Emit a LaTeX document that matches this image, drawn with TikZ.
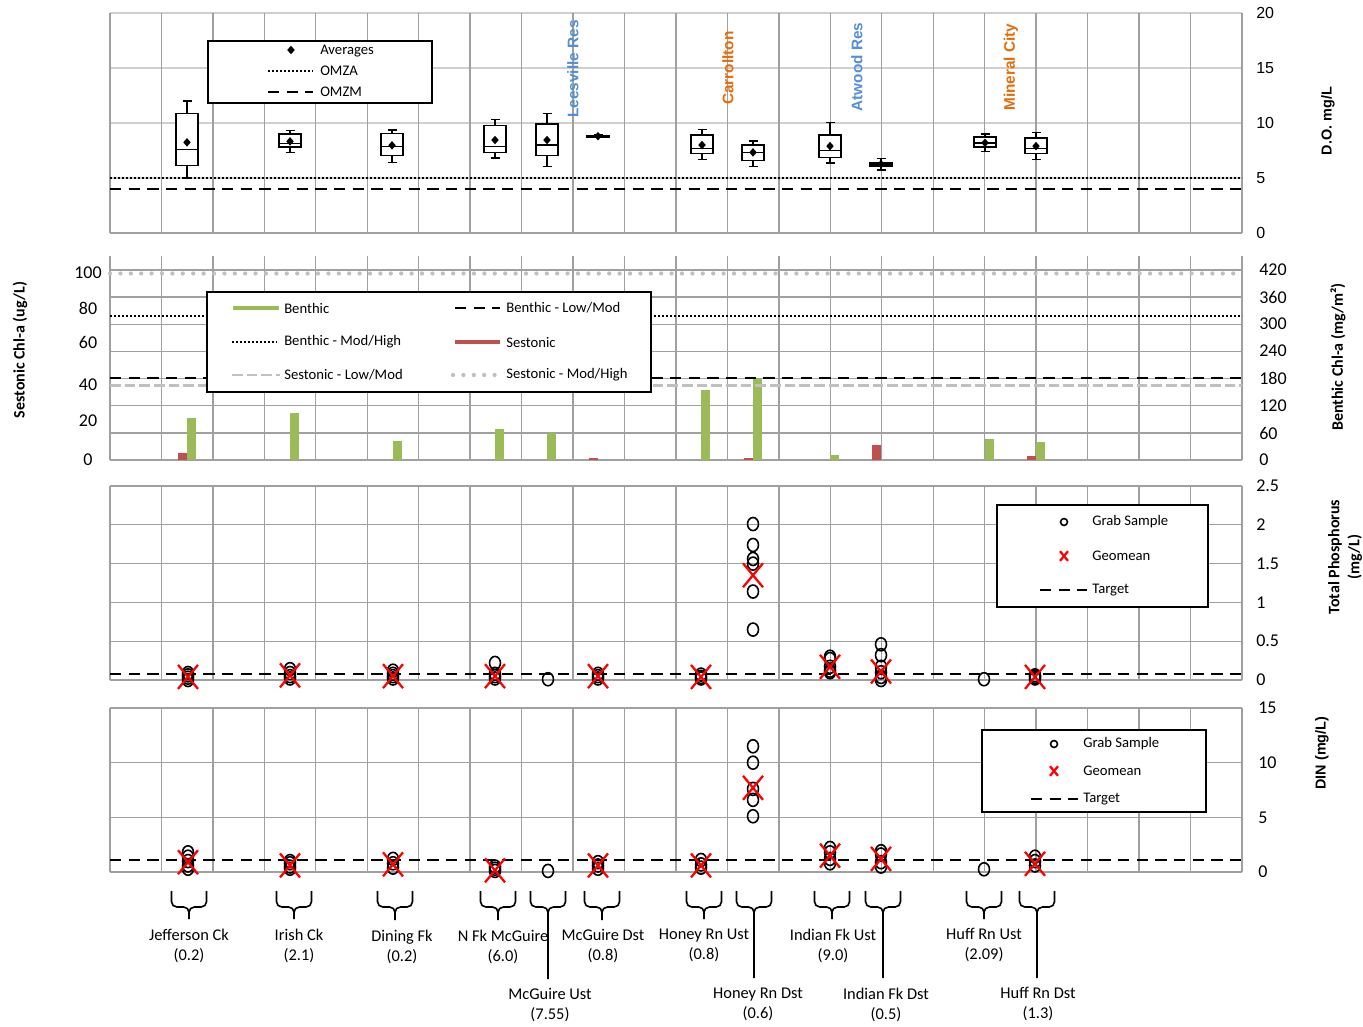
\documentclass[tikz,border=0pt]{standalone}
\usepackage{fontspec}
\setmainfont{Carlito}
\newfontfamily\arialfont{Liberation Sans}
\usetikzlibrary{calc}
\definecolor{gridgray}{HTML}{A0A0A0}
\definecolor{faintgray}{HTML}{CFCFCF}
\definecolor{refgray}{HTML}{C0C0C0}
\definecolor{benthic}{HTML}{9BBB59}
\definecolor{sestonic}{HTML}{C0504D}
\definecolor{resblue}{HTML}{558ED5}
\definecolor{townorange}{HTML}{E46C0A}
\newcommand*{\plotl }{110}
\newcommand*{\plotr }{1242}
\newcommand*{\colw  }{51.45}
\newcommand*{\hbw   }{11}
\newcommand*{\hcw   }{4.5}
\newcommand*{\tickfont }{\fontsize{13.5}{16}\selectfont}
\newcommand*{\legfont  }{\fontsize{11}{13}\selectfont}
\newcommand*{\sitefont }{\fontsize{12.3}{15}\selectfont}
\newcommand*{\titlefont}{\bfseries\fontsize{12}{15}\selectfont}
\newcommand*{\arialtitle}{\arialfont\bfseries\fontsize{10.8}{13}\selectfont}
\newcommand*{\townfont }{\arialfont\bfseries\fontsize{11.5}{13}\selectfont}
\tikzset{
    gridline/.style = {draw=gridgray, line width=1pt},
    faintline/.style= {draw=faintgray, line width=1pt},
    boxline/.style  = {line width=1.1pt},
    fineDots/.style = {line width=1.5pt, dash pattern=on 1.4pt off 1.6pt},
    blackDash/.style= {line width=2.2pt, dash pattern=on 8.5pt off 5.5pt},
    seslm/.style    = {draw=refgray, line width=2.2pt, dash pattern=on 8pt off 3pt},
    sesmh/.style    = {draw=refgray, line width=3.2pt, line cap=round, dash pattern=on 0pt off 7.8pt},
    legbox/.style   = {draw, fill=white, line width=1.2pt},
    legtext/.style  = {anchor=west, inner sep=0pt, font=\legfont},
    tick/.style     = {anchor=west, inner sep=0pt, font=\tickfont},
    town/.style     = {rotate=90, font=\townfont},
    axtitle/.style  = {rotate=90, font=\titlefont, align=center},
    site/.style     = {anchor=north, align=center, inner xsep=1pt, inner ysep=7pt, font=\sitefont},
    brace/.style    = {line width=1.2pt, rounded corners=4pt},
    geo/.pic        = {\draw[red, line width=1.7pt] (-7.5pt,-9pt) -- (7.5pt,9pt) (-7.5pt,9pt) -- (7.5pt,-9pt);},
    geosmall/.pic   = {\draw[red, line width=1.7pt] (-3pt,-3.6pt) -- (3pt,3.6pt) (-3pt,3.6pt) -- (3pt,-3.6pt);},
    grab/.pic       = {\draw[line width=1.2pt] (0pt,0pt) circle[x radius=4.1pt, y radius=4.9pt];},
    grabsmall/.pic  = {\draw[line width=1.2pt] (0pt,0pt) circle[radius=2.6pt];},
    avg/.pic        = {\fill (0pt,3.2pt) -- (2.8pt,0pt) -- (0pt,-3.2pt) -- (-2.8pt,0pt) -- cycle;}
}

\begin{document}
\begin{tikzpicture}[x=0.75pt, y=-0.75pt]
    \fill[white] (0,0) rectangle (1363,1026);
    \useasboundingbox (0,0) rectangle (1363,1026);

    % ---- dissolved oxygen
    \foreach \p in {13,68,123,178} \draw[faintline] (\plotl,\p) -- (\plotr,\p);
    \foreach \i in {0,...,22} \draw[gridline] ({\plotl+\i*\colw},13) -- ({\plotl+\i*\colw},233);
    \draw[gridline] (\plotl,233) -- (\plotr,233);
    \draw[fineDots]  (\plotl,178) -- (\plotr,178);
    \draw[blackDash] (\plotl,189) -- (\plotr,189);
    \begin{scope}[shift={(0,233)}, y=8.25pt]
        \foreach \x/\wl/\ql/\md/\qh/\wh/\av in {187/5.0/6.15/7.6/10.88/12.0/8.24, 290/7.3/7.82/8.12/9.0/9.3/8.33,
            392/6.42/7.06/7.85/9.06/9.36/7.97, 495/6.8/7.3/7.88/9.76/10.33/8.45, 547/6.06/7.06/8.0/9.9/10.88/8.45,
            598/8.7/8.72/8.8/8.88/8.9/8.8, 702/6.66/7.23/7.69/8.9/9.42/8.0, 753/6.05/6.6/7.33/8.0/8.36/7.33,
            830/6.38/6.87/7.5/8.9/10.03/7.9, 881/5.74/6.08/6.26/6.41/6.78/6.26, 985/7.39/7.8/8.2/8.72/9.0/8.2,
            1036/6.66/7.23/7.69/8.63/9.15/7.9}{
            \draw[boxline] ({\x-\hcw},\wl) -- ({\x+\hcw},\wl) (\x,\wl) -- (\x,\ql)
                           (\x,\qh) -- (\x,\wh) ({\x-\hcw},\wh) -- ({\x+\hcw},\wh);
            \draw[boxline, fill=white] ({\x-\hbw},\ql) rectangle ({\x+\hbw},\qh);
            \draw[boxline] ({\x-\hbw},\md) -- ({\x+\hbw},\md);
            \pic at (\x,\av) {avg};
        }
    \end{scope}
    \node[town, text=resblue]    (leesville)  at (573,69) {Leesville Res};
    \node[town, text=townorange] (carrollton) at (728,68) {Carrollton};
    \node[town, text=resblue]    (atwood)     at (857,67) {Atwood Res};
    \node[town, text=townorange] (mineral)    at (1011,67) {Mineral City};
    \draw[legbox] (208,41) rectangle (432,103);
    \pic at (291,50) {avg};
    \node[legtext] (avglab)  at (320,51) {Averages};
    \draw[fineDots]  (268,71) -- (313,71);
    \node[legtext] (omzalab) at (320,71) {OMZA};
    \draw[blackDash] (268,92) -- (313,92);
    \node[legtext] (omzmlab) at (320,92) {OMZM};
    \foreach \v/\p in {20/13, 15/68, 10/123, 5/178, 0/233}
        \node[tick, font=\arialfont\fontsize{12}{14}\selectfont] (do\v) at (1256,\p) {\v};
    \node[axtitle, font=\arialtitle] (dotitle) at (1328,121) {D.O. mg/L};

    % ---- chlorophyll-a
    \foreach \i in {0,...,22} \draw[gridline] ({\plotl+\i*\colw},256) -- ({\plotl+\i*\colw},460);
    \foreach \k in {0,...,7} \draw[gridline] (\plotl,{270+\k*27.143}) -- (\plotr,{270+\k*27.143});
    \begin{scope}[shift={(0,460)}, y=0.3393pt]
        \foreach \x/\h in {187/93, 290/105, 393/43, 495/68, 547/59, 701/154, 753/180, 830/12, 985/46, 1036/39}
            \fill[benthic] (\x,0) rectangle ({\x+9},\h);
        \foreach \x/\h in {187/14.6, 598/4.4, 753/4, 881/33, 1036/8}
            \fill[sestonic] ({\x-9},0) rectangle (\x,\h);
    \end{scope}
    \draw[sesmh]     (\plotl,273.5) -- (\plotr,273.5);
    \draw[fineDots]  (\plotl,316) -- (\plotr,316);
    \draw[blackDash] (\plotl,378) -- (\plotr,378);
    \draw[seslm]     (\plotl,385.5) -- (\plotr,385.5);
    \draw[legbox] (207,292) rectangle (651,392);
    \draw[benthic, line width=3pt] (233,308) -- (279,308);
    \node[legtext] (benlab)   at (284,308) {Benthic};
    \draw[blackDash] (455,308) -- (500,308);
    \node[legtext] (benlmlab) at (506,308) {Benthic - Low/Mod};
    \draw[fineDots]  (232,342) -- (277,342);
    \node[legtext] (benmhlab) at (284,342) {Benthic - Mod/High};
    \draw[sestonic, line width=3pt] (455,342) -- (500,342);
    \node[legtext] (seslab)   at (506,342) {Sestonic};
    \draw[seslm] (232,375) -- (280,375);
    \node[legtext] (seslmlab) at (284,375) {Sestonic - Low/Mod};
    \draw[sesmh] (453,375) -- (500,375);
    \node[legtext] (sesmhlab) at (506,375) {Sestonic - Mod/High};
    \foreach \v/\p in {100/273, 80/308, 60/342, 40/385, 20/421, 0/460}
        \node[tick, anchor=center] (ses\v) at (88,\p) {\v};
    \foreach \v/\p in {420/270, 360/297, 300/324, 240/351, 180/378, 120/406, 60/433, 0/460}
        \node[tick] (ben\v) at (1259,\p) {\v};
    \node[axtitle] (sestitle) at (20,350) {Sestonic Chl-a (ug/L)};
    \node[axtitle] (bentitle) at (1338,357) {Benthic Chl-a (mg/m²)};

    % ---- total phosphorus
    \foreach \i in {0,...,22} \draw[gridline] ({\plotl+\i*\colw},486) -- ({\plotl+\i*\colw},680);
    \foreach \k in {0,...,5} \draw[gridline] (\plotl,{486+\k*38.8}) -- (\plotr,{486+\k*38.8});
    \draw[blackDash] (\plotl,674) -- (\plotr,674);
    \begin{scope}[shift={(0,680)}, y=58.2pt]
        \foreach \x/\vals in {188/{0.0,0.03,0.06,0.09}, 290/{0.02,0.05,0.09,0.14}, 393/{0.02,0.05,0.08,0.12},
            495/{0.02,0.05,0.08,0.22}, 548/{0.01}, 598/{0.02,0.05,0.08}, 701/{0.02,0.04,0.07},
            753/{0.65,1.14,1.5,1.56,1.74,2.01}, 830/{0.1,0.12,0.17,0.27,0.3}, 881/{0.0,0.04,0.1,0.17,0.32,0.46},
            984/{0.01}, 1035/{0.02,0.04,0.06}}
            \foreach \v in \vals \pic at (\x,\v) {grab};
        \foreach \x/\g in {188/0.04, 290/0.06, 393/0.05, 495/0.05, 598/0.05, 701/0.04, 753/1.35, 830/0.17, 881/0.11, 1035/0.04}
            \pic at (\x,\g) {geo};
    \end{scope}
    \draw[legbox] (997,505) rectangle (1208,607);
    \pic at (1064,522) {grabsmall};
    \node[legtext] (tpgrab)   at (1092,522) {Grab Sample};
    \pic at (1064,556) {geosmall};
    \node[legtext] (tpgeo)    at (1092,556) {Geomean};
    \draw[blackDash] (1040,590) -- (1087,590);
    \node[legtext] (tptarget) at (1092,590) {Target};
    \foreach \v/\p [count=\k] in {2.5/486, 2/524.8, 1.5/563.6, 1/602.4, 0.5/641.2, 0/680}
        \node[tick] (tp\k) at (1256,\p) {\v};
    \node[axtitle] (tptitle) at (1345,557) {Total Phosphorus\\(mg/L)};

    % ---- dissolved inorganic nitrogen
    \foreach \i in {0,...,22} \draw[gridline] ({\plotl+\i*\colw},708) -- ({\plotl+\i*\colw},872);
    \foreach \k in {0,...,3} \draw[gridline] (\plotl,{708+\k*54.67}) -- (\plotr,{708+\k*54.67});
    \draw[blackDash] (\plotl,860) -- (\plotr,860);
    \begin{scope}[shift={(0,872)}, y=8.2pt]
        \foreach \x/\vals in {188/{0.3,0.6,1.0,1.4,1.8}, 290/{0.3,0.5,0.8,1.0}, 393/{0.4,0.8,1.2},
            495/{0.1,0.3,0.5}, 548/{0.1}, 598/{0.3,0.6,0.9}, 701/{0.4,0.7,1.1},
            753/{5.1,6.6,7.6,10.0,11.5}, 830/{0.8,1.2,1.8,2.2}, 881/{0.5,0.9,1.6,1.9},
            984/{0.25}, 1035/{0.6,1.0,1.4}}
            \foreach \v in \vals \pic at (\x,\v) {grab};
        \foreach \x/\g in {188/0.9, 290/0.6, 393/0.7, 495/0.15, 598/0.6, 701/0.6, 753/7.7, 830/1.5, 881/1.2, 1035/0.75}
            \pic at (\x,\g) {geo};
    \end{scope}
    \draw[legbox] (982,730) rectangle (1206,812);
    \pic at (1054,744) {grabsmall};
    \node[legtext] (dingrab)   at (1083,744) {Grab Sample};
    \pic at (1054,771) {geosmall};
    \node[legtext] (dingeo)    at (1083,771) {Geomean};
    \draw[blackDash] (1031,799) -- (1078,799);
    \node[legtext] (dintarget) at (1083,799) {Target};
    \foreach \v/\p in {15/708, 10/763, 5/818, 0/872}
        \node[tick] (din\v) at (1258,\p) {\v};
    \node[axtitle, font=\arialtitle] (dintitle) at (1322,753) {DIN (mg/L)};

    % ---- sites
    \node[site] (jefferson) at (189,919)  {Jefferson Ck\\(0.2)};
    \node[site] (irish)     at (299,919)  {Irish Ck\\(2.1)};
    \node[site] (dining)    at (402,920)  {Dining Fk\\(0.2)};
    \node[site] (nfk)       at (503,920)  {N Fk McGuire\\(6.0)};
    \node[site] (mcgust)    at (550,979)  {McGuire Ust\\(7.55)};
    \node[site] (mcgdst)    at (603,920)  {McGuire Dst\\(0.8)};
    \node[site] (honeyust)  at (704,919)  {Honey Rn Ust\\(0.8)};
    \node[site] (honeydst)  at (758,978)  {Honey Rn Dst\\(0.6)};
    \node[site] (indianust) at (833,919)  {Indian Fk Ust\\(9.0)};
    \node[site] (indiandst) at (886,978)  {Indian Fk Dst\\(0.5)};
    \node[site] (huffust)   at (984,919)  {Huff Rn Ust\\(2.09)};
    \node[site] (huffdst)   at (1038,978) {Huff Rn Dst\\(1.3)};
    \foreach \c/\lbl in {189/jefferson, 294/irish, 395/dining, 498/nfk, 548/mcgust, 602/mcgdst, 704/honeyust,
        754/honeydst, 832/indianust, 883/indiandst, 984/huffust, 1037/huffdst}
        \draw[brace] ({\c-17.5},891) -- ({\c-17.5},907) -- (\c,907) -- (\c,907 |- \lbl.north)
                     ({\c+17.5},891) -- ({\c+17.5},907) -- (\c,907) -- (\c,907 |- \lbl.north);
\end{tikzpicture}
\end{document}
